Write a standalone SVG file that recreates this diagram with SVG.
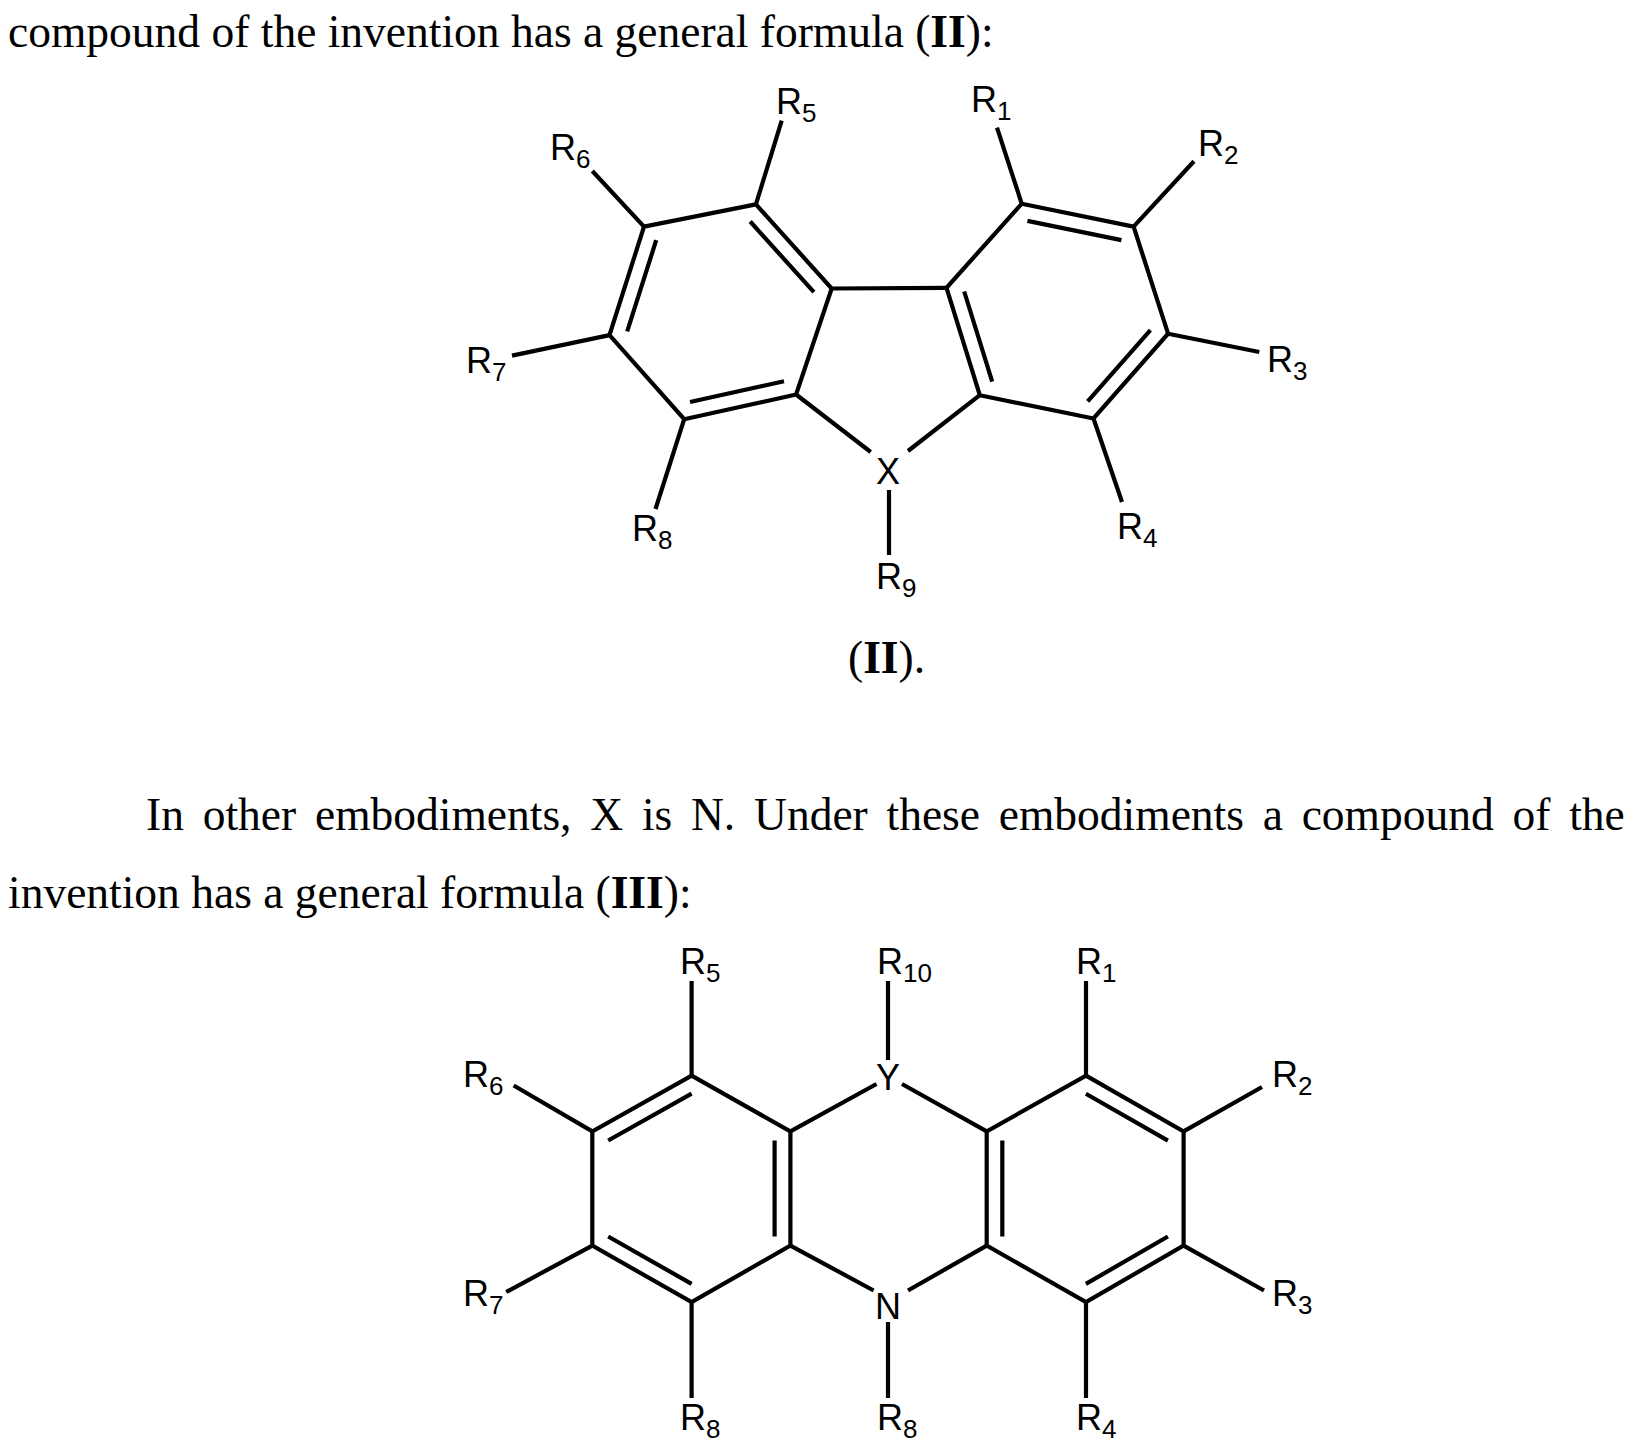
<svg xmlns="http://www.w3.org/2000/svg" width="1637" height="1452" viewBox="0 0 1637 1452">
<style>
.b{stroke:#000;stroke-width:4.2;fill:none;stroke-linecap:butt}
.t{font-family:"Liberation Serif",serif;font-size:45.5px;fill:#000}
.l{font-family:"Liberation Sans",Arial,sans-serif;font-size:36px;fill:#000}
.s{font-size:26px}
</style>
<rect width="1637" height="1452" fill="#fff"/>
<g id="text">
<text class="t" x="8" y="47">compound of the invention has a general formula (<tspan font-weight="bold">II</tspan>):</text>
<text class="t" x="848" y="673">(<tspan font-weight="bold">II</tspan>).</text>
<text class="t" x="146" y="830" word-spacing="7.4">In other embodiments, X is N. Under these embodiments a compound of the</text>
<text class="t" x="8" y="908">invention has a general formula (<tspan font-weight="bold">III</tspan>):</text>
</g>
<g id="connectors">
<path class="b" d="M644,226.6L755.9,204.4L831.7,288.5L796.1,394.5L684.2,419.2L609.5,335.1Z"/>
<path class="b" d="M1021.7,203.7L1133.6,226.6L1168.1,333.7L1093.5,418.5L979.8,395.2L946.5,287.8Z"/>
<path class="b" d="M831.7,288.5L946.5,287.8M796.1,394.5L870.7,452M979.8,395.2L908,451M889,490V555"/>
<path class="b" d="M750.2,221.5L813.9,292.2M656.2,240.2L627.2,331.3M784,381.2L690,402M1027.4,220.85L1121.4,240.1M1150.4,330.1L1087.7,401.3M992.2,381.7L964.2,291.5"/>
<path class="b" d="M755.9,204.4L781.7,120.6M1021.7,203.7L997,127.7M1133.6,226.6L1194,161.3M1168.1,333.7L1259.3,352M1093.5,418.5L1122,502M684.2,419.2L655.5,509M609.5,335.1L512,355.6M644,226.6L592.3,171"/>
<path class="b" d="M691.6,1075.6L790.4,1131.4L790.4,1245.6L691.6,1302.1L592.3,1245.6L592.3,1131.4Z"/>
<path class="b" d="M1086,1075.6L1183.6,1131.4L1183.6,1245.6L1086,1302.1L986.7,1245.6L986.7,1131.4Z"/>
<path class="b" d="M790.4,1131.4L876.5,1084M986.7,1131.4L902,1084M790.4,1245.6L873.6,1290.5M986.7,1245.6L908,1290.5M888,981V1060M888,1322V1398"/>
<path class="b" d="M691.6,1093.7L608.2,1140.5M774.6,1140.5L774.6,1236.5M608.2,1236.5L691.6,1283.9M1085.9,1093.7L1167.9,1140.6M1167.9,1236.5L1085.9,1283.9M1002.3,1140.6L1002.3,1236.5"/>
<path class="b" d="M691.6,1075.6V981M1086,1075.6V981M592.3,1131.4L513.7,1085.5M1183.6,1131.4L1262,1087M592.3,1245.6L506.2,1292M1183.6,1245.6L1264,1290.5M691.6,1302.1V1398M1086,1302.1V1398"/>
</g>
<g id="labels-II">
<text class="l" x="876" y="484">X</text>
<text class="l" x="876" y="589">R<tspan class="s" dy="8">9</tspan></text>
<text class="l" x="776" y="114">R<tspan class="s" dy="8">5</tspan></text>
<text class="l" x="971" y="112">R<tspan class="s" dy="8">1</tspan></text>
<text class="l" x="1198" y="156">R<tspan class="s" dy="8">2</tspan></text>
<text class="l" x="1267" y="372">R<tspan class="s" dy="8">3</tspan></text>
<text class="l" x="1117" y="539">R<tspan class="s" dy="8">4</tspan></text>
<text class="l" x="632" y="541">R<tspan class="s" dy="8">8</tspan></text>
<text class="l" x="466" y="373">R<tspan class="s" dy="8">7</tspan></text>
<text class="l" x="550" y="160">R<tspan class="s" dy="8">6</tspan></text>
</g>
<g id="labels-III">
<text class="l" x="876" y="1090">Y</text>
<text class="l" x="875" y="1319">N</text>
<text class="l" x="680" y="974">R<tspan class="s" dy="8">5</tspan></text>
<text class="l" x="877" y="974">R<tspan class="s" dy="8">10</tspan></text>
<text class="l" x="1076" y="974">R<tspan class="s" dy="8">1</tspan></text>
<text class="l" x="463" y="1087">R<tspan class="s" dy="8">6</tspan></text>
<text class="l" x="1272" y="1087">R<tspan class="s" dy="8">2</tspan></text>
<text class="l" x="463" y="1306">R<tspan class="s" dy="8">7</tspan></text>
<text class="l" x="1272" y="1306">R<tspan class="s" dy="8">3</tspan></text>
<text class="l" x="680" y="1430">R<tspan class="s" dy="8">8</tspan></text>
<text class="l" x="877" y="1430">R<tspan class="s" dy="8">8</tspan></text>
<text class="l" x="1076" y="1430">R<tspan class="s" dy="8">4</tspan></text>
</g>
</svg>
